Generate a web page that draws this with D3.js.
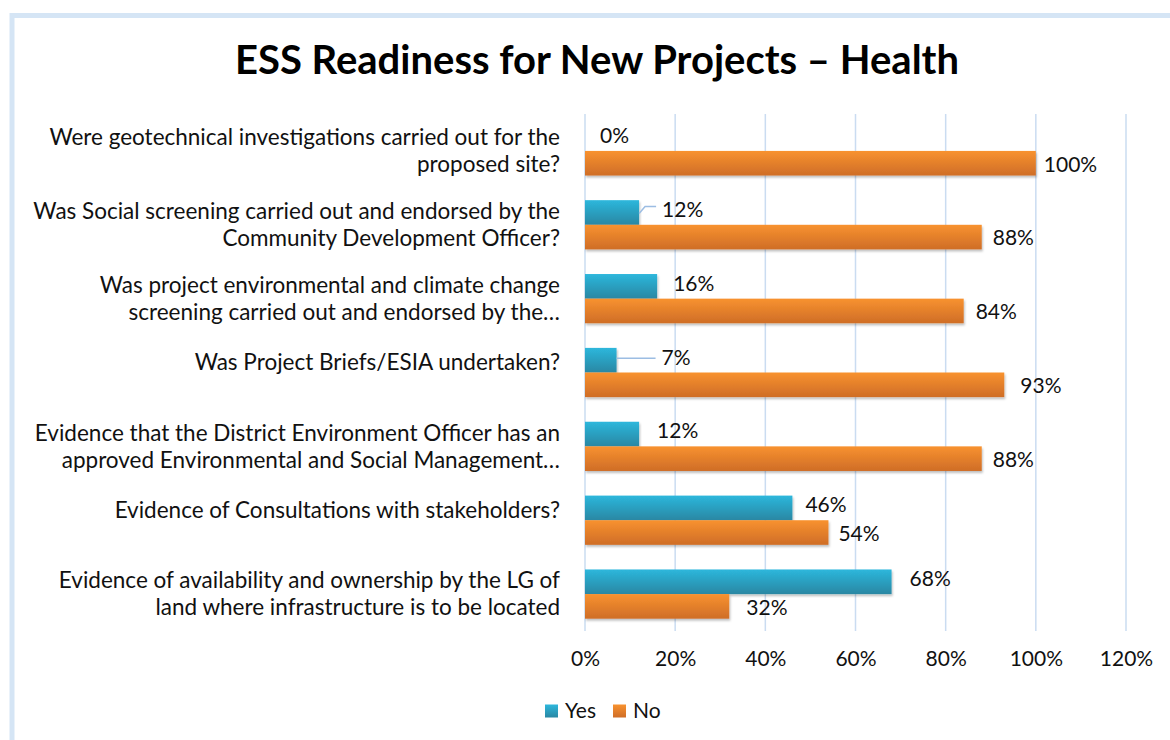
<!DOCTYPE html>
<html>
<head>
<meta charset="utf-8">
<script src="https://cdn.jsdelivr.net/npm/d3@7"></script>
<style>
  body { margin: 0; background: #fff; }
  text { font-family: Lato, "Open Sans", sans-serif; fill: #111; }
</style>
</head>
<body>
<script>
var categories = [
  ["Were geotechnical investigations carried out for the", "proposed site?"],
  ["Was Social screening carried out and endorsed by the", "Community Development Officer?"],
  ["Was project environmental and climate change", "screening carried out and endorsed by the…"],
  ["Was Project Briefs/ESIA undertaken?"],
  ["Evidence that the District Environment Officer has an", "approved Environmental and Social Management…"],
  ["Evidence of Consultations with stakeholders?"],
  ["Evidence of availability and ownership by the LG of", "land where infrastructure is to be located"]
];
var yesValues = [0, 12, 16, 7, 12, 46, 68];
var noValues = [100, 88, 84, 93, 88, 54, 32];
var seriesNames = ["Yes", "No"];
var xTicks = [0, 20, 40, 60, 80, 100, 120];

var width = 1170, height = 740;
var margin = {top: 114, right: 44, bottom: 109, left: 585};

var svg = d3.select("body").append("svg")
    .attr("width", width)
    .attr("height", height);

var defs = svg.append("defs");
var grads = [
  {id: "gYes", top: "#2db7dc", bottom: "#2987a3"},
  {id: "gNo", top: "#f8922f", bottom: "#cf6d27"}
];
grads.forEach(function(g) {
  var lg = defs.append("linearGradient").attr("id", g.id)
      .attr("x1", 0).attr("y1", 0).attr("x2", 0).attr("y2", 1);
  lg.append("stop").attr("offset", "0%").attr("stop-color", g.top);
  lg.append("stop").attr("offset", "100%").attr("stop-color", g.bottom);
});
var shadow = defs.append("filter").attr("id", "shadow")
    .attr("x", "-5%").attr("y", "-20%").attr("width", "110%").attr("height", "160%");
shadow.append("feDropShadow").attr("dx", 1).attr("dy", 2).attr("stdDeviation", 1.2)
    .attr("flood-color", "#000").attr("flood-opacity", 0.25);

// outer frame (light blue, top and left visible)
svg.append("rect")
    .attr("x", 12).attr("y", 15.5)
    .attr("width", 1200).attr("height", 800)
    .attr("fill", "none")
    .attr("stroke", "#d5e5f5")
    .attr("stroke-width", 5);

svg.append("text")
    .attr("class", "title")
    .attr("x", 597).attr("y", 74)
    .attr("text-anchor", "middle")
    .style("font-size", "40px")
    .style("font-weight", "bold")
    .style("fill", "#000")
    .text("ESS Readiness for New Projects – Health");

var x = d3.scaleLinear().domain([0, 120]).range([margin.left, margin.left + 541]);
var y = d3.scaleBand().domain(d3.range(categories.length))
    .range([margin.top, height - margin.bottom]);
var inner = d3.scaleBand().domain(seriesNames).range([0, y.bandwidth()])
    .paddingOuter(0.5).paddingInner(0);

// gridlines
svg.append("g").selectAll("line")
    .data(xTicks)
  .enter().append("line")
    .attr("x1", function(d) { return x(d); })
    .attr("x2", function(d) { return x(d); })
    .attr("y1", margin.top)
    .attr("y2", height - margin.bottom)
    .attr("stroke", "#cadcf1")
    .attr("stroke-width", 1.5);

// x axis labels
var xAxis = d3.axisBottom(x).tickValues(xTicks)
    .tickFormat(function(d) { return d + "%"; })
    .tickSize(0).tickPadding(20);
var ax = svg.append("g")
    .attr("transform", "translate(0," + (height - margin.bottom) + ")")
    .call(xAxis);
ax.select(".domain").remove();
ax.selectAll("text").style("font-size", "21px").style("fill", "#111")
    .style("font-family", "Lato, sans-serif");

// category labels
var catG = svg.append("g").selectAll("text")
    .data(categories)
  .enter().append("text")
    .attr("text-anchor", "end")
    .style("font-size", "22.5px")
    .attr("transform", function(d, i) {
      var cy = y(i) + y.bandwidth() / 2;
      var off = d.length === 1 ? -10 : -13.5;
      return "translate(560," + (cy + off) + ")";
    });
catG.selectAll("tspan")
    .data(function(d) { return d; })
  .enter().append("tspan")
    .attr("x", 0)
    .attr("dy", function(d, i) { return i === 0 ? "0.35em" : 27; })
    .text(function(d) { return d; });

var rows = categories.map(function(c, i) {
  return [{s: "Yes", v: yesValues[i], i: i}, {s: "No", v: noValues[i], i: i}];
});

var groups = svg.append("g").selectAll("g")
    .data(rows)
  .enter().append("g")
    .attr("transform", function(d, i) { return "translate(0," + y(i) + ")"; });

groups.selectAll("rect")
    .data(function(d) { return d.filter(function(e) { return e.v > 0; }); })
  .enter().append("rect")
    .attr("x", x(0))
    .attr("y", function(d) { return inner(d.s); })
    .attr("width", function(d) { return x(d.v) - x(0); })
    .attr("height", inner.bandwidth())
    .attr("fill", function(d) { return d.s === "Yes" ? "url(#gYes)" : "url(#gNo)"; })
    .attr("filter", "url(#shadow)");

// label nudges (px) for Yes labels moved off the bar, drawn with leader lines
var yesLabelDx = [15, 23, 16, 45, 18, 13, 18];
var noLabelDx = [8, 11, 12, 16, 11, 10, 17];

groups.selectAll("text.val")
    .data(function(d) { return d; })
  .enter().append("text")
    .attr("class", "val")
    .attr("x", function(d) {
      return x(d.v) + (d.s === "Yes" ? yesLabelDx[d.i] : noLabelDx[d.i]);
    })
    .attr("y", function(d) { return inner(d.s) + inner.bandwidth() / 2 + (d.s === "Yes" ? -3 : 1); })
    .attr("dy", "0.35em")
    .style("font-size", "21px")
    .text(function(d) { return d.v + "%"; });

// leader lines for nudged labels
groups.filter(function(d, i) { return yesLabelDx[i] > 20; })
  .append("path")
    .attr("fill", "none")
    .attr("stroke", "#9cbde3")
    .attr("stroke-width", 1.5)
    .attr("d", function(d, i) {
      var r = d[0];
      var x0 = x(r.v), yc = inner("Yes") + inner.bandwidth() / 2;
      var lx = x0 + yesLabelDx[r.i] - 6;
      if (r.v > 10) return "M" + x0 + "," + (yc + 1) + "L" + (x0 + 6) + "," + (yc - 6) + "L" + lx + "," + (yc - 6);
      return "M" + x0 + "," + (yc - 2) + "L" + lx + "," + (yc - 2);
    });

// legend
var legend = svg.append("g").attr("transform", "translate(545,711)");
var lItems = legend.selectAll("g")
    .data(seriesNames)
  .enter().append("g")
    .attr("transform", function(d, i) { return "translate(" + (i * 68) + ",0)"; });
lItems.append("rect")
    .attr("x", 0).attr("y", -6.5)
    .attr("width", 13).attr("height", 13)
    .attr("fill", function(d) { return d === "Yes" ? "url(#gYes)" : "url(#gNo)"; });
lItems.append("text")
    .attr("x", 20).attr("dy", "0.35em")
    .style("font-size", "21px")
    .text(function(d) { return d; });
</script>
</body>
</html>
